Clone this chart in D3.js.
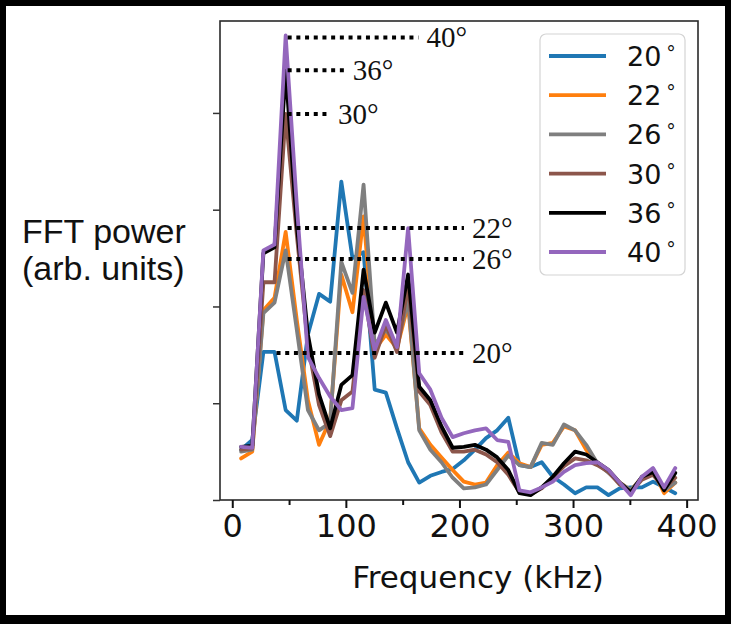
<!DOCTYPE html>
<html>
<head>
<meta charset="utf-8">
<script src="https://cdn.jsdelivr.net/npm/d3@7"></script>
<style>
  html, body { margin: 0; padding: 0; background: #fff; }
  svg { display: block; }
</style>
</head>
<body>
<svg id="chart" width="731" height="624"></svg>
<script>
// Frequency bins of the FFT (kHz)
const frequencyKHz = [7.8, 17.6, 27.4, 37.2, 47.0, 56.8, 66.6, 76.4, 86.2, 96.0,
  105.8, 115.6, 125.4, 135.2, 145.0, 154.8, 164.6, 174.4, 184.2, 194.0,
  203.8, 213.6, 223.4, 233.2, 243.0, 252.8, 262.6, 272.4, 282.2, 292.0,
  301.8, 311.6, 321.4, 331.2, 341.0, 350.8, 360.6, 370.4, 380.2, 390.0];

// Incidence angles (degrees)
const angles = ["20", "22", "26", "30", "36", "40"];

// FFT power spectra, arbitrary units, one per angle
const power20 = [0.52, 0.62, 1.53, 1.53, 0.93, 0.82, 1.71, 2.13, 2.05, 3.29,
  2.50, 2.56, 1.14, 1.11, 0.74, 0.39, 0.18, 0.25, 0.29, 0.32,
  0.41, 0.52, 0.64, 0.72, 0.85, 0.36, 0.34, 0.39, 0.24, 0.16,
  0.07, 0.13, 0.13, 0.05, 0.12, 0.13, 0.13, 0.19, 0.13, 0.07];
const power22 = [0.43, 0.50, 1.96, 2.09, 2.77, 1.86, 1.03, 0.57, 0.83, 2.33,
  1.94, 2.93, 1.55, 1.71, 1.57, 2.02, 0.74, 0.57, 0.44, 0.31,
  0.19, 0.16, 0.18, 0.36, 0.49, 0.38, 0.34, 0.57, 0.59, 0.76,
  0.72, 0.52, 0.38, 0.29, 0.18, 0.10, 0.23, 0.31, 0.07, 0.18];
const power26 = [0.50, 0.52, 1.93, 2.04, 2.58, 1.76, 0.93, 0.72, 0.80, 2.46,
  2.14, 3.26, 1.60, 1.76, 1.60, 2.07, 0.72, 0.52, 0.39, 0.23,
  0.12, 0.13, 0.16, 0.31, 0.46, 0.36, 0.34, 0.59, 0.57, 0.78,
  0.72, 0.57, 0.38, 0.28, 0.18, 0.10, 0.23, 0.29, 0.10, 0.18];
const power30 = [0.52, 0.53, 2.25, 2.25, 3.99, 2.74, 1.60, 0.98, 0.66, 1.03,
  1.12, 2.17, 1.47, 1.81, 1.53, 2.22, 1.12, 0.98, 0.70, 0.50,
  0.50, 0.52, 0.47, 0.39, 0.26, 0.08, 0.06, 0.12, 0.23, 0.35,
  0.43, 0.41, 0.36, 0.29, 0.16, 0.08, 0.21, 0.26, 0.12, 0.23];
const power36 = [0.55, 0.56, 2.55, 2.61, 4.44, 2.84, 1.71, 1.09, 0.74, 1.19,
  1.29, 2.38, 1.73, 2.04, 1.73, 2.33, 1.17, 1.03, 0.76, 0.54,
  0.55, 0.57, 0.52, 0.44, 0.31, 0.07, 0.05, 0.13, 0.24, 0.38,
  0.50, 0.47, 0.39, 0.31, 0.18, 0.08, 0.24, 0.29, 0.10, 0.28];
const power40 = [0.55, 0.54, 2.58, 2.64, 4.80, 3.05, 1.48, 1.26, 1.07, 0.93,
  0.95, 2.10, 1.55, 1.86, 1.58, 2.81, 1.31, 1.14, 0.85, 0.65,
  0.69, 0.72, 0.74, 0.62, 0.60, 0.10, 0.08, 0.13, 0.19, 0.29,
  0.36, 0.38, 0.39, 0.31, 0.18, 0.05, 0.24, 0.33, 0.13, 0.33];

// Height of the first (~50 kHz) peak marked for each angle, where it sits, and where its label goes
const peakLevel = [1.52, 2.81, 2.49, 3.99, 4.44, 4.78];
const peakFreqKHz = [37.2, 47.0, 47.0, 47.0, 47.0, 47.0];
const peakLabelFreqKHz = [211, 211, 211, 93, 106, 171];

// Axis ticks
const xTicks = [0, 100, 200, 300, 400];
const xMinorTicks = [50, 150, 250, 350];
const yTicks = [0, 1, 2, 3, 4];

const spectra = [power20, power22, power26, power30, power36, power40];
const colors = ["#1f77b4", "#ff7f0e", "#7f7f7f", "#8c564b", "#000000", "#9467bd"];

const svg = d3.select("#chart");
const W = 731, H = 624;

// Plot frame
const frame = { left: 220, right: 698, top: 21, bottom: 500 };
const x = d3.scaleLinear().domain([-10.8, 410]).range([frame.left, frame.right]);
const y = d3.scaleLinear().domain([0, 4.95]).range([frame.bottom, frame.top]);

svg.append("rect").attr("width", W).attr("height", H).attr("fill", "#fff");

// Spectra
const line = d3.line()
  .x((d, i) => x(frequencyKHz[i]))
  .y(d => y(d));

svg.append("g").selectAll("path")
  .data(spectra)
  .join("path")
  .attr("d", d => line(d))
  .attr("fill", "none")
  .attr("stroke", (d, i) => colors[i])
  .attr("stroke-width", 3.8)
  .attr("stroke-linejoin", "round")
  .attr("stroke-linecap", "round");

// Axis spines
svg.append("rect")
  .attr("x", frame.left).attr("y", frame.top)
  .attr("width", frame.right - frame.left).attr("height", frame.bottom - frame.top)
  .attr("fill", "none").attr("stroke", "#2a2a2a").attr("stroke-width", 1.6);

// Bottom axis
const xAxis = d3.axisBottom(x).tickValues(xTicks).tickSize(8).tickPadding(6)
  .tickFormat(d3.format("d"));
const gx = svg.append("g").attr("transform", `translate(0,${frame.bottom})`).call(xAxis);
gx.select(".domain").remove();
gx.selectAll(".tick line").attr("stroke", "#111").attr("stroke-width", 2);
gx.selectAll(".tick text")
  .attr("font-family", "DejaVu Sans, sans-serif")
  .attr("font-size", 32).attr("fill", "#111");

const xMinor = d3.axisBottom(x).tickValues(xMinorTicks).tickSize(5).tickFormat("");
const gxm = svg.append("g").attr("transform", `translate(0,${frame.bottom})`).call(xMinor);
gxm.select(".domain").remove();
gxm.selectAll(".tick line").attr("stroke", "#111").attr("stroke-width", 2);

// Left axis: ticks only, values are arbitrary units
const yAxis = d3.axisLeft(y).tickValues(yTicks).tickSize(7).tickFormat("");
const gy = svg.append("g").attr("transform", `translate(${frame.left},0)`).call(yAxis);
gy.select(".domain").remove();
gy.selectAll(".tick line").attr("stroke", "#333").attr("stroke-width", 1.5);

// Peak markers: dotted lines from each first peak to its angle label
const markers = svg.append("g");
angles.forEach((a, i) => {
  const yy = y(peakLevel[i]);
  const x0 = x(peakFreqKHz[i]) + 2;
  const xl = x(peakLabelFreqKHz[i]);
  markers.append("line")
    .attr("x1", x0).attr("x2", xl - 8)
    .attr("y1", yy).attr("y2", yy)
    .attr("stroke", "#000").attr("stroke-width", 4)
    .attr("stroke-dasharray", "4,4.7");
  markers.append("text")
    .attr("x", xl).attr("y", yy + 10)
    .attr("font-family", "Liberation Serif, DejaVu Serif, serif")
    .attr("font-size", 29).attr("fill", "#111")
    .text(a + "°");
});

// Legend
const legend = svg.append("g");
legend.append("rect")
  .attr("x", 540).attr("y", 34).attr("width", 145).attr("height", 241)
  .attr("rx", 6).attr("fill", "#fff").attr("stroke", "#d4d4d4").attr("stroke-width", 1.2);
angles.forEach((a, i) => {
  const ry = 56 + i * 39.2;
  legend.append("line")
    .attr("x1", 549).attr("x2", 606).attr("y1", ry).attr("y2", ry)
    .attr("stroke", colors[i]).attr("stroke-width", 3.8);
  const t = legend.append("text")
    .attr("x", 627).attr("y", ry + 10)
    .attr("font-family", "DejaVu Sans, sans-serif")
    .attr("font-size", 27).attr("fill", "#111");
  t.append("tspan").text(a);
  t.append("tspan").attr("dx", 5).attr("dy", -6).attr("font-size", 19).text("°");
});

// Axis titles
svg.append("text")
  .attr("x", 478).attr("y", 588)
  .attr("text-anchor", "middle")
  .attr("font-family", "DejaVu Sans, sans-serif")
  .attr("font-size", 31).attr("fill", "#111")
  .text("Frequency (kHz)");

const yTitle = svg.append("text")
  .attr("font-family", "Liberation Sans, Arial, sans-serif")
  .attr("font-size", 34).attr("fill", "#111");
yTitle.append("tspan").attr("x", 22).attr("y", 243).text("FFT power");
yTitle.append("tspan").attr("x", 22).attr("y", 280).text("(arb. units)");

// Outer black frame
svg.append("path")
  .attr("d", `M0,0H${W}V${H}H0Z M6,6V615H725V6Z`)
  .attr("fill", "#000").attr("fill-rule", "evenodd");
</script>
</body>
</html>
